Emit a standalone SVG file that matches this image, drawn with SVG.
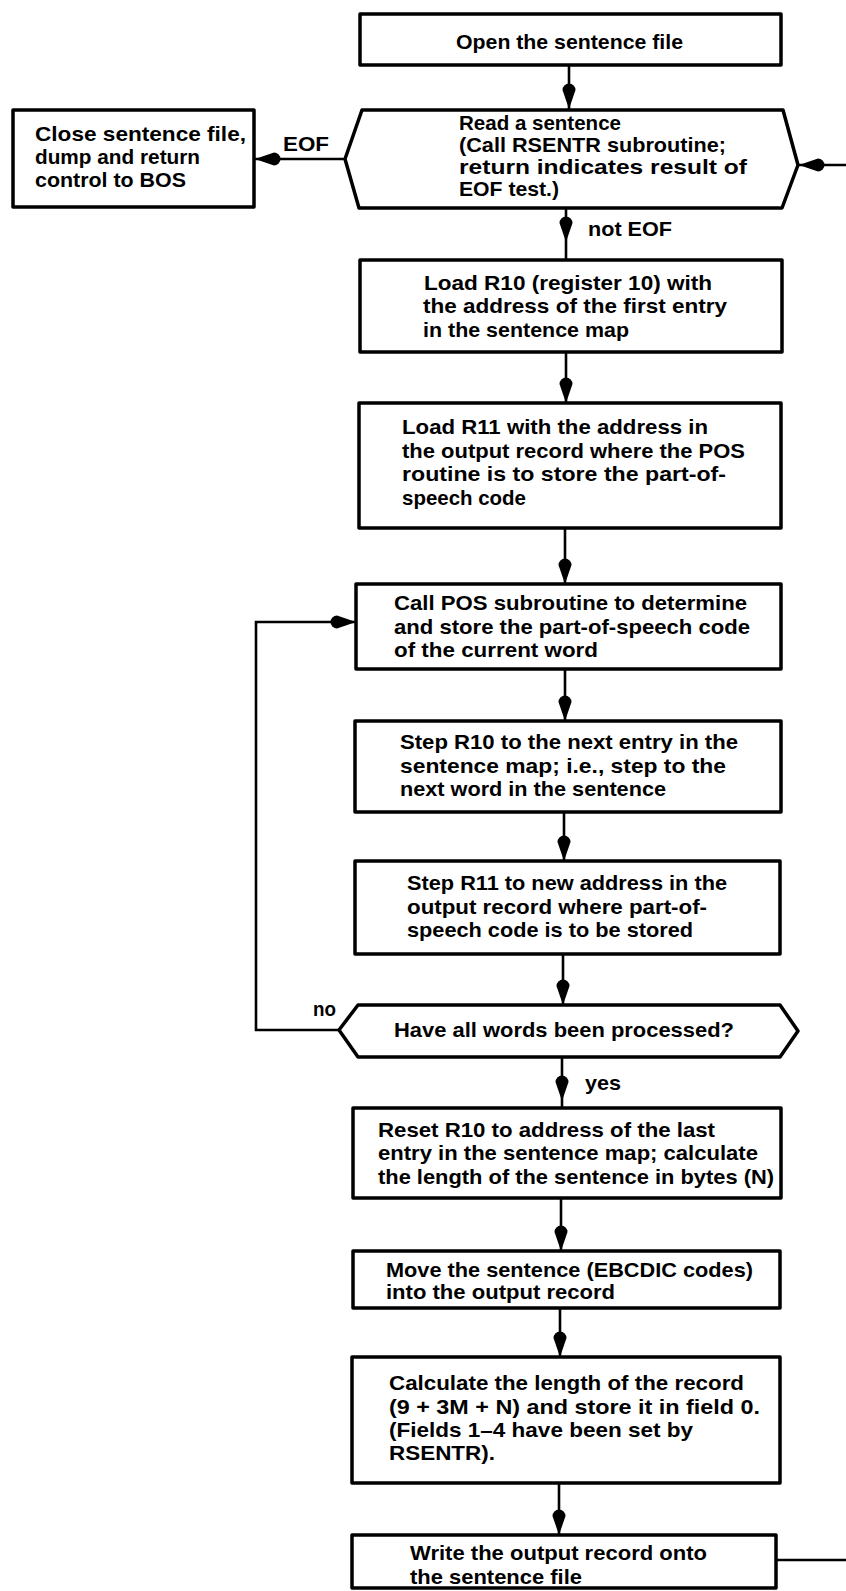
<svg xmlns="http://www.w3.org/2000/svg" width="846" height="1591" viewBox="0 0 846 1591">
<style>
.box{fill:#fff;stroke:#000;stroke-width:3.5;stroke-linejoin:round}
.c{fill:none;stroke:#000;stroke-width:2.6}
text{font-family:"Liberation Sans",Arial,sans-serif;font-weight:bold;font-size:20.5px;fill:#000}
</style>
<defs>
<marker id="ah" markerUnits="userSpaceOnUse" markerWidth="32" markerHeight="16" viewBox="0 -8 32 16" refX="26" refY="0" orient="auto">
<path d="M26,0 L7,-6.5 A6.5,6.5 0 0,0 7,6.5 Z" fill="#000"/>
</marker>
</defs>
<rect width="846" height="1591" fill="#fff"/>
<g id="connectors">
<path class="c" d="M569,65 L569,109" marker-end="url(#ah)"/>
<path class="c" d="M345,159 L255,159" marker-end="url(#ah)"/>
<path class="c" d="M846,165 L799,165" marker-end="url(#ah)"/>
<path class="c" d="M566,208 L566,242 L566,260" marker-mid="url(#ah)"/>
<path class="c" d="M566,352 L566,403" marker-end="url(#ah)"/>
<path class="c" d="M565,528 L565,584" marker-end="url(#ah)"/>
<path class="c" d="M565,669 L565,721" marker-end="url(#ah)"/>
<path class="c" d="M564,812 L564,861" marker-end="url(#ah)"/>
<path class="c" d="M563,954 L563,1005" marker-end="url(#ah)"/>
<path class="c" d="M339,1030 L256,1030 L256,622 L356,622" marker-end="url(#ah)"/>
<path class="c" d="M562,1057 L562,1101 L562,1108" marker-mid="url(#ah)"/>
<path class="c" d="M561,1198 L561,1251" marker-end="url(#ah)"/>
<path class="c" d="M560,1308 L560,1357" marker-end="url(#ah)"/>
<path class="c" d="M559,1483 L559,1535" marker-end="url(#ah)"/>
<path class="c" d="M776,1560 L846,1560"/>
<text x="283" y="151" textLength="46" lengthAdjust="spacingAndGlyphs">EOF</text>
<text x="588" y="236" textLength="84" lengthAdjust="spacingAndGlyphs">not EOF</text>
<text x="313" y="1016" textLength="23" lengthAdjust="spacingAndGlyphs">no</text>
<text x="585" y="1090" textLength="36" lengthAdjust="spacingAndGlyphs">yes</text>
</g>
<g id="open">
<rect class="box" x="360" y="14" width="421" height="51"/>
<text x="456" y="49" textLength="227" lengthAdjust="spacingAndGlyphs">Open the sentence file</text>
</g>
<g id="read">
<polygon class="box" points="345,159 362,110 783,110 798,165 782,208 359,208"/>
<text x="459" y="130" textLength="162" lengthAdjust="spacingAndGlyphs">Read a sentence</text>
<text x="459" y="152" textLength="267" lengthAdjust="spacingAndGlyphs">(Call RSENTR subroutine;</text>
<text x="459" y="174" textLength="288" lengthAdjust="spacingAndGlyphs">return indicates result of</text>
<text x="459" y="196" textLength="100" lengthAdjust="spacingAndGlyphs">EOF test.)</text>
</g>
<g id="close">
<rect class="box" x="13" y="110" width="241" height="97"/>
<text x="35" y="141" textLength="211" lengthAdjust="spacingAndGlyphs">Close sentence file,</text>
<text x="35" y="164" textLength="165" lengthAdjust="spacingAndGlyphs">dump and return</text>
<text x="35" y="187" textLength="151" lengthAdjust="spacingAndGlyphs">control to BOS</text>
</g>
<g id="loadR10">
<rect class="box" x="360" y="260" width="422" height="92"/>
<text x="424" y="290" textLength="288" lengthAdjust="spacingAndGlyphs">Load R10 (register 10) with</text>
<text x="423" y="313" textLength="304" lengthAdjust="spacingAndGlyphs">the address of the first entry</text>
<text x="423" y="337" textLength="206" lengthAdjust="spacingAndGlyphs">in the sentence map</text>
</g>
<g id="loadR11">
<rect class="box" x="359" y="403" width="422" height="125"/>
<text x="402" y="434" textLength="306" lengthAdjust="spacingAndGlyphs">Load R11 with the address in</text>
<text x="402" y="458" textLength="343" lengthAdjust="spacingAndGlyphs">the output record where the POS</text>
<text x="402" y="481" textLength="324" lengthAdjust="spacingAndGlyphs">routine is to store the part-of-</text>
<text x="402" y="505" textLength="124" lengthAdjust="spacingAndGlyphs">speech code</text>
</g>
<g id="callPOS">
<rect class="box" x="356" y="584" width="425" height="85"/>
<text x="394" y="610" textLength="353" lengthAdjust="spacingAndGlyphs">Call POS subroutine to determine</text>
<text x="394" y="634" textLength="356" lengthAdjust="spacingAndGlyphs">and store the part-of-speech code</text>
<text x="394" y="657" textLength="204" lengthAdjust="spacingAndGlyphs">of the current word</text>
</g>
<g id="stepR10">
<rect class="box" x="355" y="721" width="426" height="91"/>
<text x="400" y="749" textLength="338" lengthAdjust="spacingAndGlyphs">Step R10 to the next entry in the</text>
<text x="400" y="773" textLength="326" lengthAdjust="spacingAndGlyphs">sentence map; i.e., step to the</text>
<text x="400" y="796" textLength="266" lengthAdjust="spacingAndGlyphs">next word in the sentence</text>
</g>
<g id="stepR11">
<rect class="box" x="355" y="861" width="425" height="93"/>
<text x="407" y="890" textLength="320" lengthAdjust="spacingAndGlyphs">Step R11 to new address in the</text>
<text x="407" y="914" textLength="300" lengthAdjust="spacingAndGlyphs">output record where part-of-</text>
<text x="407" y="937" textLength="286" lengthAdjust="spacingAndGlyphs">speech code is to be stored</text>
</g>
<g id="allWords">
<polygon class="box" points="339,1030 358,1005 780,1005 798,1031 780,1057 358,1057"/>
<text x="394" y="1037" textLength="340" lengthAdjust="spacingAndGlyphs">Have all words been processed?</text>
</g>
<g id="reset">
<rect class="box" x="353" y="1108" width="428" height="90"/>
<text x="378" y="1137" textLength="337" lengthAdjust="spacingAndGlyphs">Reset R10 to address of the last</text>
<text x="378" y="1160" textLength="380" lengthAdjust="spacingAndGlyphs">entry in the sentence map; calculate</text>
<text x="378" y="1184" textLength="396" lengthAdjust="spacingAndGlyphs">the length of the sentence in bytes (N)</text>
</g>
<g id="move">
<rect class="box" x="353" y="1251" width="427" height="57"/>
<text x="386" y="1277" textLength="367" lengthAdjust="spacingAndGlyphs">Move the sentence (EBCDIC codes)</text>
<text x="386" y="1299" textLength="229" lengthAdjust="spacingAndGlyphs">into the output record</text>
</g>
<g id="calc">
<rect class="box" x="352" y="1357" width="428" height="126"/>
<text x="389" y="1390" textLength="355" lengthAdjust="spacingAndGlyphs">Calculate the length of the record</text>
<text x="389" y="1414" textLength="371" lengthAdjust="spacingAndGlyphs">(9 + 3M + N) and store it in field 0.</text>
<text x="389" y="1437" textLength="304" lengthAdjust="spacingAndGlyphs">(Fields 1–4 have been set by</text>
<text x="389" y="1460" textLength="106" lengthAdjust="spacingAndGlyphs">RSENTR).</text>
</g>
<g id="write">
<rect class="box" x="352" y="1535" width="424" height="53"/>
<text x="410" y="1560" textLength="297" lengthAdjust="spacingAndGlyphs">Write the output record onto</text>
<text x="410" y="1584" textLength="172" lengthAdjust="spacingAndGlyphs">the sentence file</text>
</g>
</svg>
